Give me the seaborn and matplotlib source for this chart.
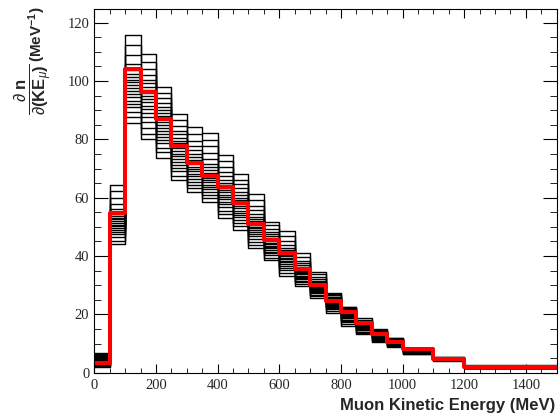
import numpy as np
import pandas as pd
import matplotlib
matplotlib.use('Agg')
import matplotlib.pyplot as plt
import seaborn as sns
from matplotlib.ticker import MultipleLocator

# bin edges in MeV (50 MeV bins up to 1 GeV, then wider)
bin_edges = [0, 50, 100, 150, 200, 250, 300, 350, 400, 450, 500, 550, 600,
             650, 700, 750, 800, 850, 900, 950, 1000, 1100, 1200, 1500]

# central value (red)
central = [3.2, 54.6, 104.0, 96.4, 87.1, 77.7, 71.8, 67.5, 63.8, 58.3, 51.0,
           45.5, 40.9, 35.5, 30.1, 24.7, 20.7, 16.9, 13.3, 10.6, 8.0, 4.8, 1.9]

# universe levels seen in each bin (sorted, low -> high)
universe_levels = [
    [2.0, 2.4, 2.7, 3.0, 3.2, 3.4, 3.6, 3.8, 4.0, 4.2, 4.4, 4.6, 4.8, 5.0, 5.2, 5.4, 5.7, 6.0, 6.3, 6.6],
    [44.1, 45.3, 46.5, 47.5, 48.3, 49.0, 49.6, 50.2, 50.8, 51.4, 52.0, 52.6, 53.2, 53.8, 54.5, 56.0, 58.0, 60.0, 62.2, 64.5],
    [85.7, 87.5, 89.5, 91.0, 92.2, 93.3, 94.4, 95.5, 96.5, 97.5, 98.5, 99.5, 100.5, 101.5, 102.5, 103.8, 106.0, 109.0, 112.5, 115.8],
    [80.0, 82.0, 84.0, 86.0, 87.5, 89.0, 90.3, 91.5, 92.7, 93.8, 94.9, 96.0, 97.0, 98.0, 99.2, 100.5, 102.0, 104.0, 106.5, 109.2],
    [73.7, 75.5, 77.2, 78.6, 79.8, 80.9, 82.0, 83.0, 84.0, 85.0, 86.0, 87.0, 88.0, 89.0, 90.0, 91.2, 92.6, 94.2, 96.0, 98.0],
    [66.0, 67.6, 69.0, 70.2, 71.3, 72.3, 73.3, 74.2, 75.1, 76.0, 76.9, 77.8, 78.7, 79.6, 80.6, 81.7, 83.0, 84.6, 86.5, 88.7],
    [61.8, 63.2, 64.4, 65.5, 66.5, 67.4, 68.2, 69.0, 69.8, 70.6, 71.4, 72.2, 73.0, 73.9, 74.9, 76.2, 77.8, 79.6, 81.7, 84.1],
    [58.6, 59.8, 61.0, 62.0, 62.9, 63.7, 64.5, 65.3, 66.1, 66.9, 67.7, 68.5, 69.4, 70.4, 71.6, 73.2, 75.3, 77.6, 79.9, 82.3],
    [52.9, 54.3, 55.6, 56.7, 57.7, 58.6, 59.4, 60.2, 61.0, 61.8, 62.6, 63.4, 64.2, 65.1, 66.1, 67.3, 68.8, 70.5, 72.5, 74.6],
    [49.0, 50.3, 51.4, 52.4, 53.3, 54.1, 54.9, 55.6, 56.3, 57.0, 57.7, 58.4, 59.1, 59.9, 60.8, 61.9, 63.2, 64.6, 66.2, 68.0],
    [42.6, 43.8, 44.9, 45.9, 46.7, 47.4, 48.1, 48.8, 49.5, 50.1, 50.7, 51.3, 51.9, 52.6, 53.4, 54.4, 55.7, 57.2, 59.1, 61.2],
    [38.6, 39.4, 40.2, 40.9, 41.5, 42.1, 42.6, 43.1, 43.6, 44.1, 44.6, 45.1, 45.6, 46.2, 46.8, 47.5, 48.3, 49.3, 50.5, 51.8],
    [33.3, 34.3, 35.2, 36.0, 36.7, 37.3, 37.9, 38.4, 38.9, 39.4, 39.9, 40.4, 40.9, 41.5, 42.1, 42.9, 43.9, 45.2, 46.8, 48.5],
    [29.7, 30.4, 31.0, 31.6, 32.1, 32.5, 32.9, 33.3, 33.7, 34.1, 34.5, 34.9, 35.3, 35.7, 36.2, 36.8, 37.5, 38.4, 39.6, 41.1],
    [25.5, 26.2, 26.8, 27.3, 27.7, 28.1, 28.5, 28.8, 29.1, 29.4, 29.7, 30.0, 30.3, 30.6, 31.0, 31.5, 32.1, 32.8, 33.7, 34.6],
    [20.6, 21.2, 21.7, 22.1, 22.5, 22.8, 23.1, 23.4, 23.7, 24.0, 24.3, 24.6, 24.9, 25.2, 25.5, 25.8, 26.1, 26.5, 26.9, 27.4],
    [16.0, 16.7, 17.3, 17.8, 18.2, 18.6, 18.9, 19.2, 19.5, 19.8, 20.1, 20.4, 20.7, 21.0, 21.3, 21.6, 21.9, 22.1, 22.4, 22.6],
    [13.2, 13.7, 14.1, 14.5, 14.8, 15.1, 15.3, 15.5, 15.7, 15.9, 16.1, 16.3, 16.5, 16.7, 16.9, 17.2, 17.5, 17.8, 18.2, 18.6],
    [10.6, 11.0, 11.3, 11.6, 11.8, 12.0, 12.2, 12.4, 12.6, 12.8, 13.0, 13.2, 13.4, 13.6, 13.8, 14.0, 14.2, 14.4, 14.7, 15.0],
    [8.7, 9.0, 9.2, 9.4, 9.6, 9.8, 9.95, 10.1, 10.25, 10.4, 10.55, 10.7, 10.85, 11.0, 11.15, 11.3, 11.45, 11.6, 11.8, 12.0],
    [6.3, 6.5, 6.7, 6.85, 7.0, 7.15, 7.3, 7.4, 7.5, 7.6, 7.7, 7.8, 7.9, 8.0, 8.1, 8.2, 8.3, 8.4, 8.5, 8.6],
    [4.1, 4.2, 4.3, 4.4, 4.45, 4.5, 4.55, 4.6, 4.65, 4.7, 4.75, 4.8, 4.85, 4.9, 4.95, 5.0, 5.1, 5.2, 5.35, 5.5],
    [1.5, 1.55, 1.6, 1.65, 1.7, 1.74, 1.78, 1.82, 1.86, 1.9, 1.94, 1.98, 2.02, 2.06, 2.1, 2.15, 2.2, 2.3, 2.4, 2.5],
]

x_ticks = [0, 200, 400, 600, 800, 1000, 1200, 1400]
y_ticks = [0, 20, 40, 60, 80, 100, 120]

# ---------------------------------------------------------------------------
# build step data (steps-post: repeat last value at the final edge)
step_x = bin_edges
n_univ = len(universe_levels[0])
rows = []
for k in range(n_univ):
    vals = [lv[k] for lv in universe_levels]
    vals = vals + [vals[-1]]
    for xe, v in zip(step_x, vals):
        rows.append({'energy': xe, 'value': v, 'universe': k})
df_univ = pd.DataFrame(rows)
df_cv = pd.DataFrame({'energy': step_x, 'value': central + [central[-1]]})

sns.set_style('ticks')
plt.rcParams['font.family'] = ['Liberation Serif', 'DejaVu Serif']
plt.rcParams['mathtext.fontset'] = 'custom'
plt.rcParams['mathtext.rm'] = 'Liberation Sans'
plt.rcParams['mathtext.bf'] = 'Liberation Sans:bold'
plt.rcParams['mathtext.it'] = 'Liberation Sans:italic'

fig = plt.figure(figsize=(5.6, 4.18), dpi=100)
ax = fig.add_axes([0.1684, 0.1084, 0.8257, 0.8694])

sns.lineplot(data=df_univ, x='energy', y='value', units='universe', estimator=None,
             color='black', linewidth=1.0, drawstyle='steps-post', legend=False, ax=ax)
sns.lineplot(data=df_cv, x='energy', y='value', color='#ff0000', linewidth=2.9,
             drawstyle='steps-post', legend=False, ax=ax)

ax.set_xlim(0, 1500)
ax.set_ylim(0, 124.6)
ax.set_xticks(x_ticks)
ax.set_yticks(y_ticks)
ax.xaxis.set_minor_locator(MultipleLocator(50))
ax.yaxis.set_minor_locator(MultipleLocator(5))
ax.tick_params(which='both', direction='in', top=True, right=True, labelsize=10.5,
               color='black')
ax.tick_params(axis='x', which='major', length=6.5, pad=4.2)
ax.tick_params(axis='x', which='minor', length=3.3)
ax.tick_params(axis='y', which='major', length=10, pad=3.6)
ax.tick_params(axis='y', which='minor', length=5)
for sp in ax.spines.values():
    sp.set_linewidth(0.8)
    sp.set_color('black')

ax.set_xlabel('')
ax.set_ylabel('')
fig.text(0.992, 0.029, 'Muon Kinetic Energy (MeV)', ha='right', va='center',
         fontsize=12, fontweight='bold', family='Liberation Sans')
# y title: fraction plus units, stacked along the rotated axis
fig.text(0.059, 0.848,
         r'$\dfrac{\partial\ \mathbf{n}}{\partial\mathbf{(KE}_{\mu}\mathbf{)}}$',
         rotation=90, ha='center', va='top', fontsize=12)
fig.text(0.066, 0.985, r'$\mathbf{(MeV^{-1})}$',
         rotation=90, ha='center', va='top', fontsize=11)

fig.savefig('out.png', dpi=100)
